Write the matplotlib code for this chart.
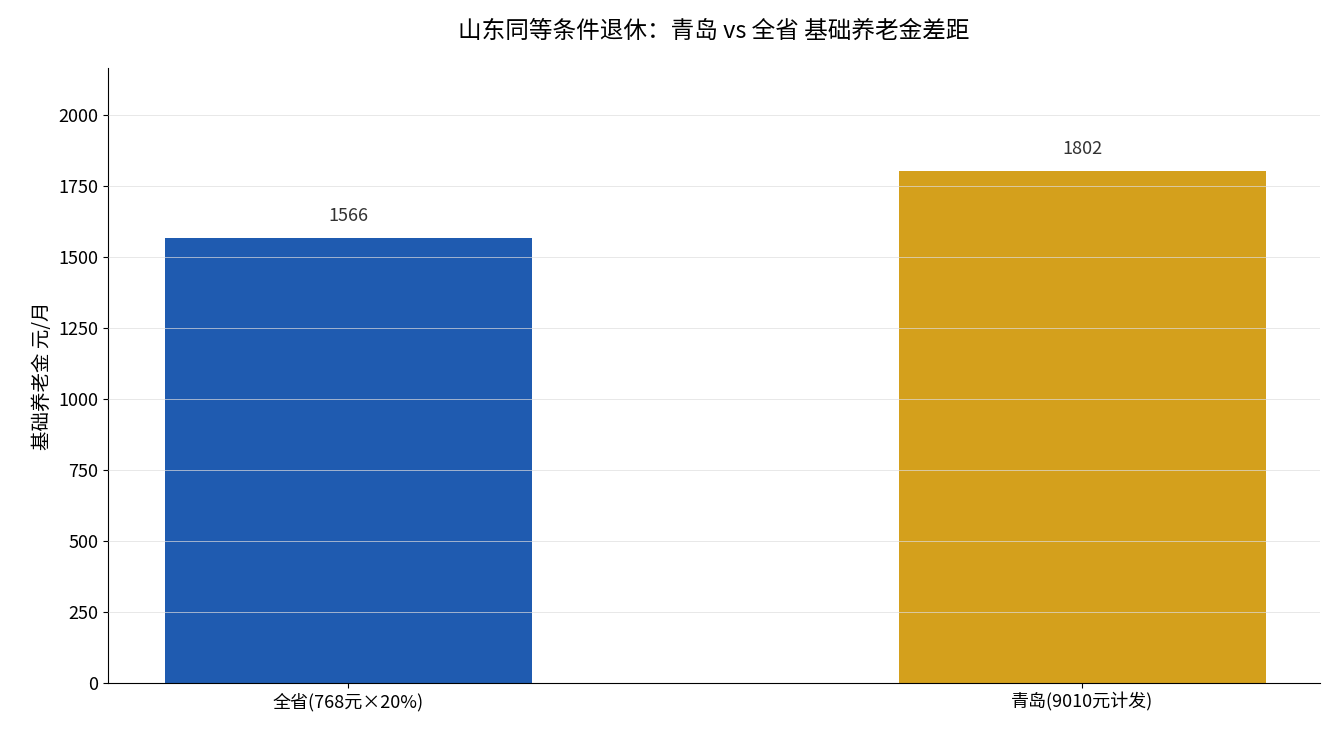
import matplotlib
matplotlib.use("Agg")
import matplotlib.pyplot as plt

plt.rcParams['font.family'] = ['Noto Sans CJK SC', 'DejaVu Sans']

categories = ['全省(768元×20%)', '青岛(9010元计发)']
values = [1566, 1802]
colors = ['#1f5bb0', '#d4a01c']

fig = plt.figure(figsize=(13.35, 7.35), dpi=100)
ax = fig.add_axes([108/1335, 1-683/735, (1320-108)/1335, (683-68)/735])
ax.bar(range(len(values)), values, width=0.5, color=colors, zorder=2)
for i, v in enumerate(values):
    ax.text(i, v + 45, str(v), ha='center', va='bottom', fontsize=13, color='#333333')
ax.set_xticks(range(len(values)))
ax.set_xticklabels(categories, fontsize=13)
ax.set_xlim(-0.327, 1.324)
ax.set_ylim(0, 2165)
ax.set_yticks(range(0, 2001, 250))
ax.tick_params(axis='y', labelsize=13)
ax.grid(axis='y', color='#dddddd', linewidth=0.6, alpha=0.8, zorder=3)
ax.set_axisbelow(False)
ax.spines['top'].set_visible(False)
ax.spines['right'].set_visible(False)
ax.set_ylabel('基础养老金 元/月', fontsize=14)
ax.set_title('山东同等条件退休：青岛 vs 全省 基础养老金差距', fontsize=17, pad=22)
fig.savefig('out.png', dpi=100)
